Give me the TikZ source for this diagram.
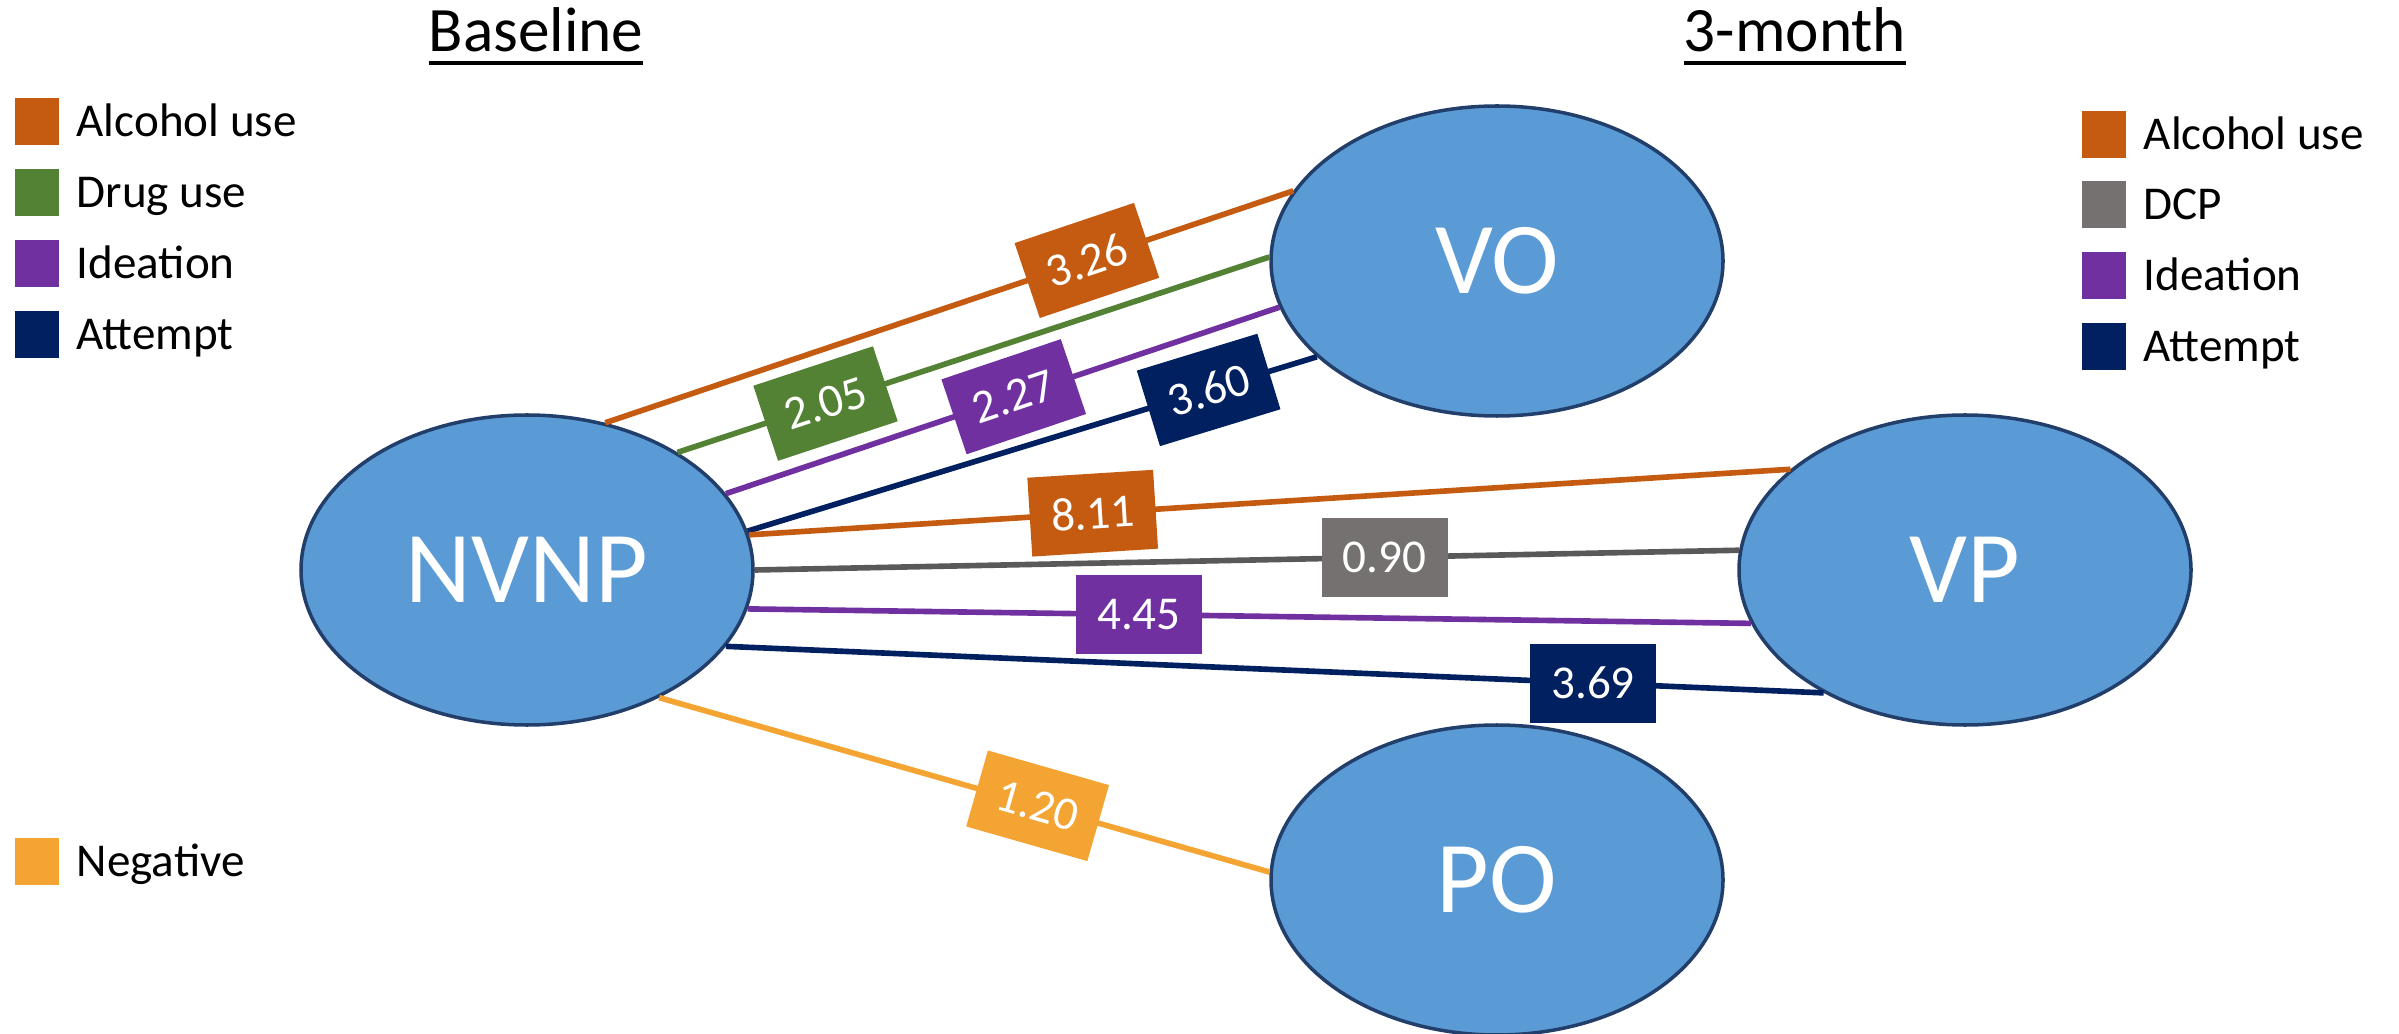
\documentclass[tikz,border=0pt]{standalone}
\usepackage{fontspec}
\setmainfont{Carlito}
\usetikzlibrary{shapes.geometric,positioning}

\definecolor{alcohol}{HTML}{C55A11}
\definecolor{druguse}{HTML}{548235}
\definecolor{ideation}{HTML}{7030A0}
\definecolor{attempt}{HTML}{002060}
\definecolor{dcpbox}{HTML}{767171}
\definecolor{dcpline}{HTML}{595959}
\definecolor{negative}{HTML}{F4A432}
\definecolor{statefill}{HTML}{5B9BD5}
\definecolor{stateline}{HTML}{223F6B}

% thick underline for the two column heads
\newcommand{\headul}[1]{\leavevmode\vtop{\hbox{#1}\kern2.4pt\hrule height 1.2pt}}

\tikzset{
  state/.style={ellipse, draw=stateline, line width=1pt, fill=statefill, text=white,
    minimum width=4.52cm, minimum height=3.10cm, inner sep=0pt,
    font=\fontsize{29}{34}\selectfont},
  link/.style={line width=1.6pt},
  coef/.style={text=white, minimum width=1.26cm, minimum height=0.79cm, inner sep=0pt,
    font=\fontsize{13.4}{16}\selectfont},
  key/.style={minimum width=0.44cm, minimum height=0.47cm, inner sep=0pt, outer sep=0pt},
  keytext/.style={inner sep=0pt, text height=0.33cm, text depth=0.03cm,
    font=\fontsize{13.4}{16}\selectfont},
  head/.style={anchor=base, inner sep=0pt, font=\fontsize{18}{22}\selectfont}
}

\begin{document}
\begin{tikzpicture}
\useasboundingbox (0,0) rectangle (23.99,10.33);

\node [head] (base) at (5.36,9.81) {\headul{Baseline}};
\node [head] (month) at (17.95,9.81) {\headul{3-month}};

% legend, baseline side
\node [key, fill=alcohol] (k1) at (0.37,9.11) {};
\node [keytext, right=0.17cm of k1] (t1) {Alcohol use};
\node [key, fill=druguse] (k2) at (0.37,8.40) {};
\node [keytext, right=0.17cm of k2] (t2) {Drug use};
\node [key, fill=ideation] (k3) at (0.37,7.69) {};
\node [keytext, right=0.17cm of k3] (t3) {Ideation};
\node [key, fill=attempt] (k4) at (0.37,6.98) {};
\node [keytext, right=0.17cm of k4] (t4) {Attempt};
\node [key, fill=negative] (k5) at (0.37,1.72) {};
\node [keytext, right=0.17cm of k5] (t5) {Negative};

% legend, 3-month side
\node [key, fill=alcohol] (m1) at (21.04,8.98) {};
\node [keytext, right=0.17cm of m1] (u1) {Alcohol use};
\node [key, fill=dcpbox] (m2) at (21.04,8.28) {};
\node [keytext, right=0.17cm of m2] (u2) {DCP};
\node [key, fill=ideation] (m3) at (21.04,7.57) {};
\node [keytext, right=0.17cm of m3] (u3) {Ideation};
\node [key, fill=attempt] (m4) at (21.04,6.86) {};
\node [keytext, right=0.17cm of m4] (u4) {Attempt};

% classes
\node [state] (NVNP) at (5.27,4.63) {NVNP};
\node [state] (VO) at (14.97,7.72) {VO};
\node [state] (VP) at (19.65,4.63) {VP};
\node [state] (PO) at (14.97,1.53) {PO};

% NVNP -> VO
\draw [link, alcohol] (NVNP.62) -- node [coef, fill=alcohol, sloped, pos=0.70] (c1) {3.26} (VO.161);
\draw [link, druguse] (NVNP.38) -- node [coef, fill=druguse, sloped, pos=0.25] (c2) {2.05} (VO.179);
\draw [link, ideation] (NVNP.21) -- node [coef, fill=ideation, sloped, pos=0.52] (c3) {2.27} (VO.192);
\draw [link, attempt] (NVNP.10) -- node [coef, fill=attempt, sloped, pos=0.81] (c4) {3.60} (VO.208);

% NVNP -> VP
\draw [link, alcohol] (NVNP.9) -- node [coef, fill=alcohol, sloped, pos=0.33] (c5) {8.11} (VP.150);
\draw [link, dcpline] (NVNP.0) -- node [coef, fill=dcpbox, pos=0.64] (c6) {0.90} (VP.175);
\draw [link, ideation] (NVNP.-10) -- node [coef, fill=ideation, pos=0.39] (c7) {4.45} (VP.194);
\draw [link, attempt] (NVNP.-21) -- node [coef, fill=attempt, pos=0.79] (c8) {3.69} (VP.221);

% NVNP -> PO
\draw [link, negative] (NVNP.-44) -- node [coef, fill=negative, sloped, pos=0.62] (c9) {1.20} (PO.178);

\end{tikzpicture}
\end{document}
